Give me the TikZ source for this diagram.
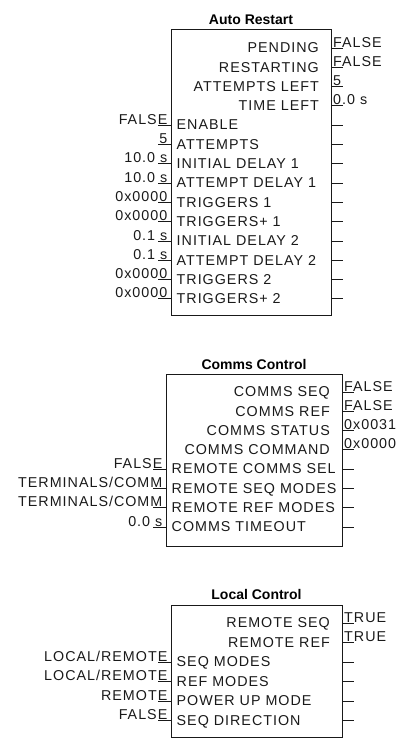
\documentclass[tikz,border=0pt]{standalone}
\usepackage{fontspec}
\setmainfont{Liberation Sans}
\newfontfamily\labfont[LetterSpace=7]{Liberation Sans}
\newcommand\myblx{171}
\newcommand\mybrx{331}
\newcommand\myry{48}
\newcommand\myrs{19.3}
\newcommand\myout[4]{%
  \pgfmathsetmacro\myyy{\myry+\myrs*#2}%
  \node[lab, anchor=base east] (#1l#2) at (\mybrx-12,\myyy+4.7) {#3};
  \coordinate (#1a#2) at (\mybrx,\myyy);
  \coordinate (#1b#2) at (\mybrx+12,\myyy);
  \draw[stub] (#1a#2) -- (#1b#2);
  \node[lab, anchor=base west] (#1v#2) at (\mybrx+2,\myyy-1) {#4};
}
\newcommand\myin[4]{%
  \pgfmathsetmacro\myyy{\myry+\myrs*#2}%
  \node[lab, anchor=base west] (#1l#2) at (\myblx+5.5,\myyy+4.7) {#3};
  \coordinate (#1c#2) at (\myblx-13,\myyy);
  \coordinate (#1d#2) at (\myblx,\myyy);
  \draw[stub] (#1c#2) -- (#1d#2);
  \node[lab, anchor=base east] (#1v#2) at (\myblx-3.5,\myyy-1) {#4};
  \coordinate (#1a#2) at (\mybrx,\myyy);
  \coordinate (#1b#2) at (\mybrx+12,\myyy);
  \draw[stub] (#1a#2) -- (#1b#2);
}
\begin{document}
\begin{tikzpicture}[x=1pt,y=-1pt,
  lab/.style={font=\labfont\fontsize{14.3pt}{16pt}\selectfont, inner sep=0pt, text=black!90},
  ttl/.style={font=\bfseries\fontsize{14pt}{16pt}\selectfont, inner sep=0pt, anchor=base},
  fbox/.style={draw=black!90, line width=1pt, inner sep=0pt, outer sep=0pt, anchor=north west},
  stub/.style={draw=black!90, line width=1pt}]
\useasboundingbox (0,0) rectangle (402,747);
% ---------- Auto Restart ----------
\renewcommand\myblx{171}\renewcommand\mybrx{331}\renewcommand\myry{48}\renewcommand\myrs{19.3}
\node[fbox, minimum width=160pt, minimum height=286pt] (b1) at (171,29) {};
\node[ttl] (t1) at (251,24) {Auto Restart};
\myout{p}{0}{PENDING}{FALSE}
\myout{p}{1}{RESTARTING}{FALSE}
\myout{p}{2}{ATTEMPTS LEFT}{5}
\myout{p}{3}{TIME LEFT}{0.0 s}
\myin{p}{4}{ENABLE}{FALSE}
\myin{p}{5}{ATTEMPTS}{5}
\myin{p}{6}{INITIAL DELAY 1}{10.0 s}
\myin{p}{7}{ATTEMPT DELAY 1}{10.0 s}
\myin{p}{8}{TRIGGERS 1}{0x0000}
\myin{p}{9}{TRIGGERS+ 1}{0x0000}
\myin{p}{10}{INITIAL DELAY 2}{0.1 s}
\myin{p}{11}{ATTEMPT DELAY 2}{0.1 s}
\myin{p}{12}{TRIGGERS 2}{0x0000}
\myin{p}{13}{TRIGGERS+ 2}{0x0000}
% ---------- Comms Control ----------
\renewcommand\myblx{166}\renewcommand\mybrx{342}\renewcommand\myry{392}\renewcommand\myrs{19.3}
\node[fbox, minimum width=176pt, minimum height=172pt] (b2) at (166,374) {};
\node[ttl] (t2) at (254,369) {Comms Control};
\myout{q}{0}{COMMS SEQ}{FALSE}
\myout{q}{1}{COMMS REF}{FALSE}
\myout{q}{2}{COMMS STATUS}{0x0031}
\myout{q}{3}{COMMS COMMAND}{0x0000}
\myin{q}{4}{REMOTE COMMS SEL}{FALSE}
\myin{q}{5}{REMOTE SEQ MODES}{TERMINALS/COMM}
\myin{q}{6}{REMOTE REF MODES}{TERMINALS/COMM}
\myin{q}{7}{COMMS TIMEOUT}{0.0 s}
% ---------- Local Control ----------
\renewcommand\myblx{171}\renewcommand\mybrx{342}\renewcommand\myry{623}\renewcommand\myrs{19.5}
\node[fbox, minimum width=171pt, minimum height=132pt] (b3) at (171,605) {};
\node[ttl] (t3) at (256.5,599) {Local Control};
\myout{r}{0}{REMOTE SEQ}{TRUE}
\myout{r}{1}{REMOTE REF}{TRUE}
\myin{r}{2}{SEQ MODES}{LOCAL/REMOTE}
\myin{r}{3}{REF MODES}{LOCAL/REMOTE}
\myin{r}{4}{POWER UP MODE}{REMOTE}
\myin{r}{5}{SEQ DIRECTION}{FALSE}
\end{tikzpicture}
\end{document}
